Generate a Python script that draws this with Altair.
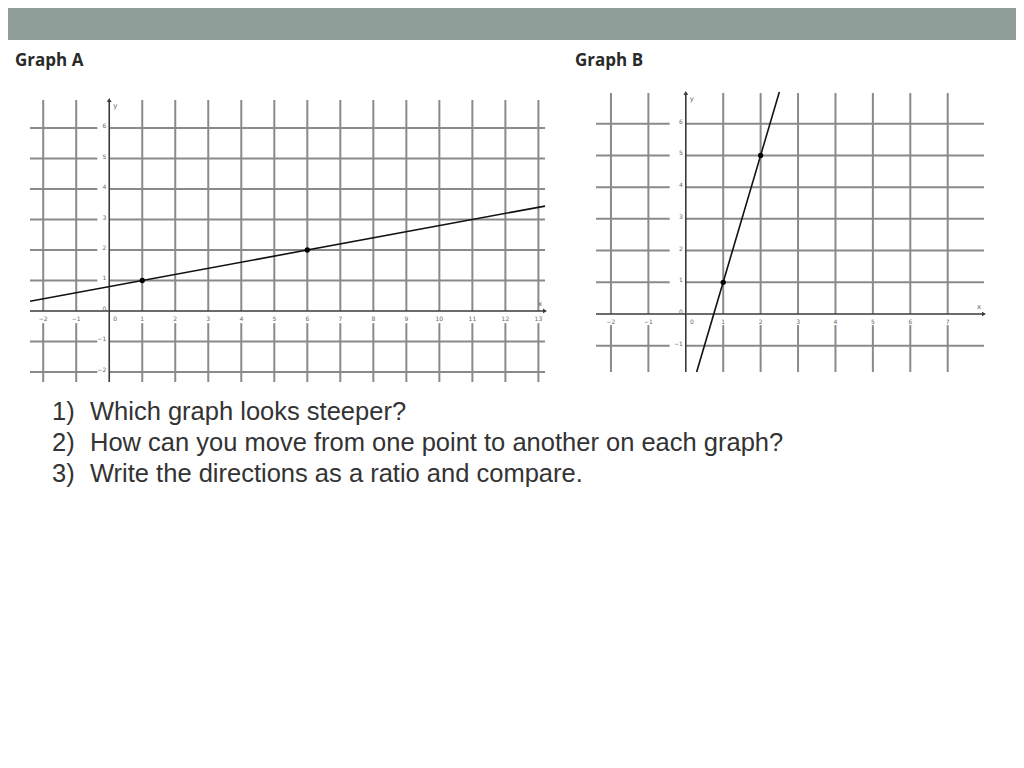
import altair as alt
import pandas as pd

W, H = 1008, 752

# ---------------- data ----------------
# Graph A
a_x_grid = [-2, -1, 1, 2, 3, 4, 5, 6, 7, 8, 9, 10, 11, 12, 13]
a_y_grid = [-2, -1, 1, 2, 3, 4, 5, 6]
a_x_labels = [-2, -1, 1, 2, 3, 4, 5, 6, 7, 8, 9, 10, 11, 12, 13]
a_y_labels = [-2, -1, 0, 1, 2, 3, 4, 5, 6]
a_line_x = [-2.4, 13.2]
a_line_y = [0.32, 3.44]
a_pts_x = [1, 6]
a_pts_y = [1, 2]
a_xdom = [-2.4, 13.2]
a_ydom = [-2.33, 6.92]

# Graph B
b_x_grid = [-2, -1, 1, 2, 3, 4, 5, 6, 7]
b_y_grid = [-1, 1, 2, 3, 4, 5, 6]
b_x_labels = [-2, -1, 1, 2, 3, 4, 5, 6, 7]
b_y_labels = [-1, 0, 1, 2, 3, 4, 5, 6]
b_line_x = [0.29, 2.5]
b_line_y = [-1.83, 7.0]
b_pts_x = [1, 2]
b_pts_y = [1, 5]
b_xdom = [-2.4, 7.97]
b_ydom = [-1.83, 6.97]

questions_num = ["1)", "2)", "3)"]
questions = [
    "Which graph looks steeper?",
    "How can you move from one point to another on each graph?",
    "Write the directions as a ratio and compare.",
]

GRID = "#8a8a8a"
AXIS = "#3a3a3a"
LBL = "#666666"


def graph(xdom, ydom, xr, yr, xgrid, ygrid, xlabels, ylabels,
          lx, ly, px, py, hgap, vgap):
    xs = alt.Scale(domain=xdom, range=xr, nice=False, zero=False)
    ys = alt.Scale(domain=ydom, range=yr, nice=False, zero=False)
    X = lambda f: alt.X(f, type="quantitative", scale=xs, axis=None)
    Y = lambda f: alt.Y(f, type="quantitative", scale=ys, axis=None)

    # horizontal grid segments (gap left of y axis for labels)
    hrows = []
    for v in ygrid:
        hrows.append({"x": xdom[0], "x2": hgap, "y": v})
        hrows.append({"x": 0, "x2": xdom[1], "y": v})
    vrows = []
    for v in xgrid:
        vrows.append({"x": v, "y": 0, "y2": ydom[1]})
        vrows.append({"x": v, "y": ydom[0], "y2": vgap})

    hgrid = alt.Chart(pd.DataFrame(hrows)).mark_rule(
        color=GRID, strokeWidth=2
    ).encode(x=X("x"), x2="x2", y=Y("y"))
    vgrid = alt.Chart(pd.DataFrame(vrows)).mark_rule(
        color=GRID, strokeWidth=2
    ).encode(x=X("x"), y=Y("y"), y2="y2")

    axes_df = pd.DataFrame([
        {"x": xdom[0], "x2": xdom[1], "y": 0, "y2": 0},
        {"x": 0, "x2": 0, "y": ydom[0], "y2": ydom[1]},
    ])
    axes = alt.Chart(axes_df).mark_rule(color=AXIS, strokeWidth=1.6).encode(
        x=X("x"), x2="x2", y=Y("y"), y2="y2"
    )

    arrow_up = alt.Chart(pd.DataFrame({"x": [0], "y": [ydom[1]]})).mark_point(
        shape="triangle-up", filled=True, color=AXIS, size=22, opacity=1
    ).encode(x=X("x"), y=Y("y"))
    arrow_right = alt.Chart(pd.DataFrame({"x": [xdom[1]], "y": [0]})).mark_point(
        shape="triangle-right", filled=True, color=AXIS, size=22, opacity=1
    ).encode(x=X("x"), y=Y("y"))

    xl = alt.Chart(pd.DataFrame({"x": xlabels, "y": [0] * len(xlabels)})).mark_text(
        fontSize=6, color=LBL, dy=8, font="DejaVu Sans"
    ).encode(x=X("x"), y=Y("y"), text="x:Q")
    x0 = alt.Chart(pd.DataFrame({"x": [0], "y": [0]})).mark_text(
        fontSize=6, color=LBL, dy=8, dx=6, font="DejaVu Sans"
    ).encode(x=X("x"), y=Y("y"), text="x:Q")
    yl = alt.Chart(pd.DataFrame({"x": [0] * len(ylabels), "y": ylabels})).mark_text(
        fontSize=6, color=LBL, dx=-3, dy=-2, align="right", font="DejaVu Sans"
    ).encode(x=X("x"), y=Y("y"), text="y:Q")

    ylab = alt.Chart(pd.DataFrame({"x": [0], "y": [ydom[1]], "t": ["y"]})).mark_text(
        fontSize=7, color=LBL, dx=6, dy=6, font="DejaVu Sans"
    ).encode(x=X("x"), y=Y("y"), text="t:N")
    xlab = alt.Chart(pd.DataFrame({"x": [xdom[1]], "y": [0], "t": ["x"]})).mark_text(
        fontSize=7, color=LBL, dx=-5, dy=-7, font="DejaVu Sans"
    ).encode(x=X("x"), y=Y("y"), text="t:N")

    line = alt.Chart(pd.DataFrame({"x": lx, "y": ly})).mark_line(
        color="#111111", strokeWidth=1.6
    ).encode(x=X("x"), y=Y("y"))
    pts = alt.Chart(pd.DataFrame({"x": px, "y": py})).mark_point(
        filled=True, color="#000000", size=28, opacity=1
    ).encode(x=X("x"), y=Y("y"))

    return alt.layer(hgrid, vgrid, axes, arrow_up, arrow_right,
                     xl, x0, yl, ylab, xlab, line, pts)


gA = graph(a_xdom, a_ydom, [22, 537], [374, 92], a_x_grid, a_y_grid,
           a_x_labels, a_y_labels, a_line_x, a_line_y, a_pts_x, a_pts_y,
           -0.36, -0.4)
gB = graph(b_xdom, b_ydom, [588, 976], [364, 85], b_x_grid, b_y_grid,
           b_x_labels, b_y_labels, b_line_x, b_line_y, b_pts_x, b_pts_y,
           -0.43, -0.35)

one = pd.DataFrame({"k": [0]})
band = alt.Chart(one).mark_rect(color="#8f9e98").encode(
    x=alt.value(0), x2=alt.value(W), y=alt.value(0), y2=alt.value(32)
)

titleA = alt.Chart(one).mark_text(
    text="Graph A", font="Open Sans", fontWeight="bold", fontSize=17,
    color="#2a2a2a", align="left", baseline="alphabetic"
).encode(x=alt.value(7), y=alt.value(58))
titleB = alt.Chart(one).mark_text(
    text="Graph B", font="Open Sans", fontWeight="bold", fontSize=17,
    color="#2a2a2a", align="left", baseline="alphabetic"
).encode(x=alt.value(567), y=alt.value(58))

q_layers = []
for i, (n, q) in enumerate(zip(questions_num, questions)):
    q_layers.append(alt.Chart(one).mark_text(
        text=n, font="Liberation Sans", fontSize=25.5, color="#333333",
        align="left", baseline="alphabetic"
    ).encode(x=alt.value(44), y=alt.value(412 + 31 * i)))
    q_layers.append(alt.Chart(one).mark_text(
        text=q, font="Liberation Sans", fontSize=25.5, color="#333333",
        align="left", baseline="alphabetic"
    ).encode(x=alt.value(82), y=alt.value(412 + 31 * i)))

chart = alt.layer(
    band, titleA, titleB, gA, gB, *q_layers
).resolve_scale(x="independent", y="independent").properties(
    width=W, height=H, padding=0,
    autosize=alt.AutoSizeParams(type="none"),
).configure_view(stroke=None)

chart.save("out.html", embed_options={"renderer": "svg", "actions": False})
